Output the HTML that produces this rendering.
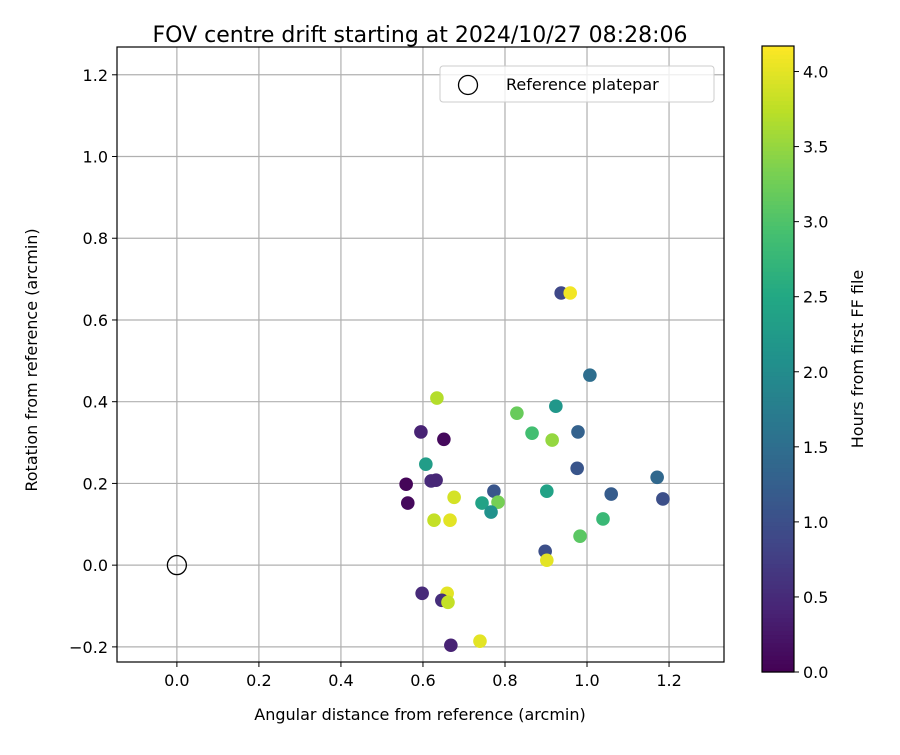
<!DOCTYPE html>
<html><head><meta charset="utf-8"><style>
body{margin:0;background:#fff;font-family:"Liberation Sans","DejaVu Sans",sans-serif}
svg text{font-family:"DejaVu Sans","Liberation Sans",sans-serif}
</style></head><body>
<svg id="c" width="900" height="750" xmlns="http://www.w3.org/2000/svg"></svg>
<script>
const xVals=[0.937,0.959,1.007,0.924,0.829,0.634,0.866,0.915,0.978,0.595,0.651,0.607,0.976,1.171,0.559,0.620,0.632,0.773,0.902,1.059,1.185,0.676,0.563,0.744,0.783,0.766,0.627,0.666,1.039,0.983,0.898,0.902,0.598,0.659,0.646,0.661,0.668,0.739];
const yVals=[0.666,0.666,0.465,0.389,0.372,0.409,0.323,0.306,0.326,0.326,0.308,0.247,0.237,0.215,0.198,0.206,0.208,0.181,0.181,0.174,0.162,0.166,0.152,0.152,0.154,0.130,0.110,0.110,0.113,0.071,0.034,0.012,-0.069,-0.069,-0.086,-0.091,-0.196,-0.186];
const hours=[0.9,4.1,1.5,2.2,3.2,3.7,2.9,3.5,1.3,0.4,0.1,2.3,1.1,1.4,0.05,0.5,0.45,1.1,2.4,1.2,1.0,3.9,0.1,2.4,3.3,2.1,3.8,4.0,2.8,3.1,1.0,4.0,0.5,4.0,0.55,3.8,0.4,4.0];
const xTicks=[0.0,0.2,0.4,0.6,0.8,1.0,1.2];
const yTicks=[-0.2,0.0,0.2,0.4,0.6,0.8,1.0,1.2];
const cTicks=[0.0,0.5,1.0,1.5,2.0,2.5,3.0,3.5,4.0];
const ns='http://www.w3.org/2000/svg',svg=document.getElementById('c');
const L=117,R=724,T=47,B=662,xmin=-0.146,xmax=1.334,ymin=-0.237,ymax=1.268,cmax=4.17;
const sx=v=>L+(v-xmin)/(xmax-xmin)*(R-L), sy=v=>B-(v-ymin)/(ymax-ymin)*(B-T);
const CB={l:762,r:794,t:46,b:672}, sc=v=>CB.b-v/cmax*(CB.b-CB.t);
function mk(t,a,p){const e=document.createElementNS(ns,t);for(const k in a)e.setAttribute(k,a[k]);(p||svg).appendChild(e);return e;}
const vir=['#440154','#482475','#414487','#355f8d','#2a788e','#21918c','#22a884','#44bf70','#7ad151','#bddf26','#fde725'];
function col(h){const n=vir.length-1;let t=Math.max(0,Math.min(1,h/cmax))*n,i=Math.min(n-1,Math.floor(t)),f=t-i;
 const p=s=>[1,3,5].map(j=>parseInt(s.substr(j,2),16));const A=p(vir[i]),Bc=p(vir[i+1]);
 return 'rgb('+A.map((v,j)=>Math.round(v+(Bc[j]-v)*f)).join(',')+')';}
const title=mk('text',{x:420,y:42,'text-anchor':'middle','font-size':22});title.textContent='FOV centre drift starting at 2024/10/27 08:28:06';

const g=mk('g',{});
xTicks.forEach(v=>{const x=sx(v);mk('line',{x1:x,x2:x,y1:T,y2:B,stroke:'#b0b0b0','stroke-width':1.2},g);
 mk('line',{x1:x,x2:x,y1:B,y2:B+5,stroke:'#000'});
 const t=mk('text',{x:x,y:B+24,'text-anchor':'middle','font-size':16});t.textContent=v.toFixed(1);
 });
yTicks.forEach(v=>{const y=sy(v);mk('line',{x1:L,x2:R,y1:y,y2:y,stroke:'#b0b0b0','stroke-width':1.2},g);
 mk('line',{x1:L-5,x2:L,y1:y,y2:y,stroke:'#000'});
 const t=mk('text',{x:L-9,y:y+6,'text-anchor':'end','font-size':16});t.textContent=(v<0?'\u2212':'')+Math.abs(v).toFixed(1);
 });
const pts=mk('g',{});
xVals.forEach((v,i)=>{const c=mk('circle',{cx:sx(v),cy:sy(yVals[i]),r:6.8,fill:col(hours[i])},pts);
 });
const rp=mk('circle',{cx:sx(0),cy:sy(0),r:9.5,fill:'none',stroke:'#000','stroke-width':1.3});

mk('rect',{x:L,y:T,width:R-L,height:B-T,fill:'none',stroke:'#000','stroke-width':1.2});
const lg=mk('g',{});
mk('rect',{x:440,y:66,width:274,height:36,rx:3,fill:'#fff','fill-opacity':0.8,stroke:'#ccc'},lg);
mk('circle',{cx:468,cy:85,r:9.5,fill:'none',stroke:'#000','stroke-width':1.3},lg);
const lt=mk('text',{x:506,y:90,'font-size':16},lg);lt.textContent='Reference platepar';
const xl=mk('text',{x:420,y:720,'text-anchor':'middle','font-size':16});xl.textContent='Angular distance from reference (arcmin)';

const yl=mk('text',{x:37,y:360,'text-anchor':'middle','font-size':16,transform:'rotate(-90 37 360)'});yl.textContent='Rotation from reference (arcmin)';

const cb=mk('g',{});
for(let i=0;i<150;i++){const h=(CB.b-CB.t)/150,y0=CB.b-(i+1)*h;mk('rect',{x:CB.l,y:y0,width:CB.r-CB.l,height:h+0.6,fill:col((i+0.5)/150*cmax)},cb);}
mk('rect',{x:CB.l,y:CB.t,width:CB.r-CB.l,height:CB.b-CB.t,fill:'none',stroke:'#000','stroke-width':1.2},cb);
cTicks.forEach(v=>{const y=sc(v);mk('line',{x1:CB.r,x2:CB.r+5,y1:y,y2:y,stroke:'#000'},cb);
 const t=mk('text',{x:CB.r+9,y:y+6,'font-size':16},cb);t.textContent=v.toFixed(1);
 });
const cl=mk('text',{x:863,y:359,'text-anchor':'middle','font-size':16,transform:'rotate(-90 863 359)'});cl.textContent='Hours from first FF file';

</script>
</body></html>
